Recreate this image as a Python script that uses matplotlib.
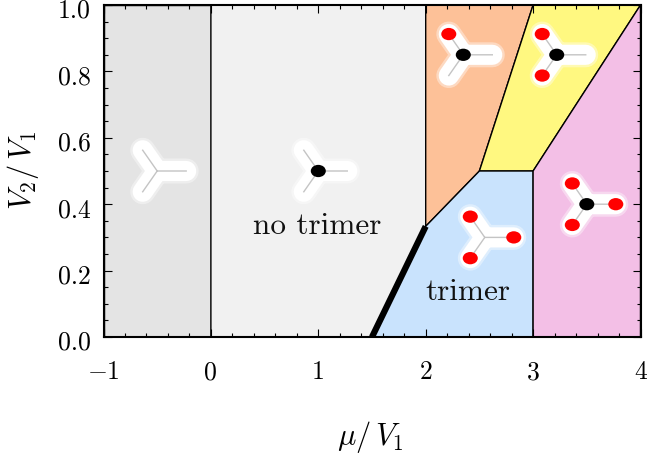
#!/usr/bin/env python3
# -*- coding: utf-8 -*-
import numpy as np
import matplotlib
matplotlib.use('Agg')
import matplotlib.pyplot as plt
from matplotlib.patches import Polygon, Ellipse
from matplotlib.ticker import MultipleLocator
from matplotlib.transforms import ScaledTranslation

plt.rcParams['font.family'] = ['cmr10', 'DejaVu Serif']
plt.rcParams['mathtext.fontset'] = 'cm'
plt.rcParams['axes.unicode_minus'] = False
plt.rcParams['axes.formatter.use_mathtext'] = True

### Data

# phase regions (mu/V1, V2/V1)
region_grey = [(-1, 0), (0, 0), (0, 1), (-1, 1)]
region_light = [(0, 0), (1.5, 0), (2, 1 / 3), (2, 1), (0, 1)]
region_orange = [(2, 1 / 3), (2.5, 0.5), (3, 1), (2, 1)]
region_yellow = [(2.5, 0.5), (3, 0.5), (4, 1), (3, 1)]
region_blue = [(1.5, 0), (3, 0), (3, 0.5), (2.5, 0.5), (2, 1 / 3)]
region_pink = [(3, 0), (4, 0), (4, 1), (3, 0.5)]

regions = [region_grey, region_light, region_orange, region_yellow, region_blue, region_pink]
region_colors = ['#e4e4e4', '#f1f1f1', '#fdc198', '#fff880', '#c9e3fd', '#f3bfe6']

# thick first order line
thick_x = [1.5, 2]
thick_y = [0, 1 / 3]

# trimer sketches: center and which sites are filled (center, right, up, down)
motif_x = [-0.5, 1, 2.35, 3.22, 2.55, 3.5]
motif_y = [0.5, 0.5, 0.85, 0.85, 0.3, 0.4]
motif_center = [0, 1, 1, 1, 0, 1]
motif_right = [0, 0, 0, 0, 1, 1]
motif_up = [0, 0, 1, 1, 1, 1]
motif_down = [0, 0, 0, 1, 1, 1]

arm_dx = [0.27, -0.135, -0.135]
arm_dy = [0, 0.0625, -0.0625]

xticks = [-1, 0, 1, 2, 3, 4]
xticklabels = ['$-1$', '0', '1', '2', '3', '4']
yticks = [0.0, 0.2, 0.4, 0.6, 0.8, 1.0]
yticklabels = ['0.0', '0.2', '0.4', '0.6', '0.8', '1.0']

### Main

fig = plt.figure(figsize=(6.47, 4.58), dpi=100)
ax = fig.add_axes([103.5 / 647, 1 - 337 / 458, 537 / 647, 332 / 458])

for pts, col in zip(regions, region_colors):
    ax.add_patch(Polygon(pts, closed=True, facecolor=col, edgecolor='k', linewidth=1.0, zorder=1))

ax.plot(thick_x, thick_y, 'k', lw=4.5, solid_capstyle='butt', zorder=2)

for i in range(len(motif_x)):
    cx = motif_x[i]
    cy = motif_y[i]
    ends_x = [cx + d for d in arm_dx]
    ends_y = [cy + d for d in arm_dy]
    xs = [ends_x[1], cx, ends_x[2], np.nan, cx, ends_x[0]]
    ys = [ends_y[1], cy, ends_y[2], np.nan, cy, ends_y[0]]
    ax.plot(xs, ys, color='white', alpha=0.4, lw=18, solid_capstyle='round', solid_joinstyle='round', zorder=3)
    ax.plot(xs, ys, color='white', lw=14.5, solid_capstyle='round', solid_joinstyle='round', zorder=3)
    ax.plot(xs, ys, color='#c4c4c4', lw=1.0, zorder=4)

    filled = [motif_right[i], motif_up[i], motif_down[i]]
    for j in range(3):
        if filled[j]:
            ax.add_patch(Ellipse((ends_x[j], ends_y[j]), 0.14, 0.037, facecolor='#ff0000', edgecolor='none', zorder=5))
    if motif_center[i]:
        ax.add_patch(Ellipse((cx, cy), 0.14, 0.037, facecolor='k', edgecolor='none', zorder=5))

ax.text(0.99, 0.334, 'no trimer', ha='center', va='center', fontsize=22.5, color='#111111', zorder=6)
ax.text(2.39, 0.135, 'trimer', ha='center', va='center', fontsize=22.5, color='#111111', zorder=6)

ax.set_xlim(-1, 4)
ax.set_ylim(0, 1)
ax.set_xticks(xticks)
ax.set_xticklabels(xticklabels)
ax.set_yticks(yticks)
ax.set_yticklabels(yticklabels)
ax.xaxis.set_minor_locator(MultipleLocator(0.2))
ax.yaxis.set_minor_locator(MultipleLocator(0.05))
ax.tick_params(which='major', direction='in', top=True, right=True, length=5.5, width=0.8, labelsize=18.5, pad=9)
ax.tick_params(which='minor', direction='in', top=True, right=True, length=3, width=0.8)
ax.tick_params(axis='x', which='major', pad=17)
for s in ax.spines.values():
    s.set_linewidth(1.5)
    s.set_zorder(10)

# y tick labels sit a bit below their ticks in the original
shift = ScaledTranslation(0, -3.5 / 100, fig.dpi_scale_trans)
for lab in ax.get_yticklabels():
    lab.set_transform(lab.get_transform() + shift)

fig.text(370 / 647, 1 - 437 / 458, r'$\mu/\,V_1$', ha='center', va='center', fontsize=22)
fig.text(23 / 647, 1 - 171 / 458, r'$V_2/\,V_1$', ha='center', va='center', rotation=90, fontsize=22)

fig.savefig('out.png', dpi=100)
